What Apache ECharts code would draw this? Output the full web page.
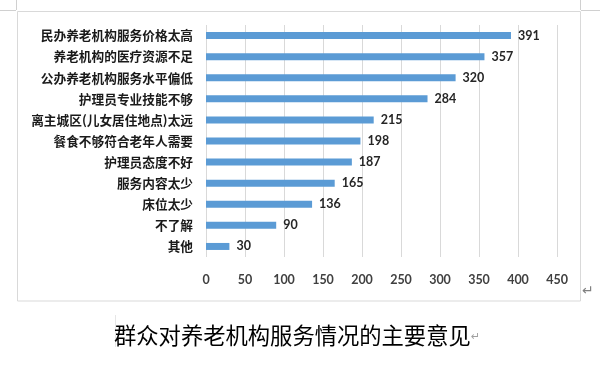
<!DOCTYPE html>
<html>
<head>
<meta charset="utf-8">
<script src="https://cdn.jsdelivr.net/npm/echarts@6/dist/echarts.min.js"></script>
<style>
html,body{margin:0;padding:0;background:#fff;}
#c{width:600px;height:367px;}
</style>
</head>
<body>
<div id="c"></div>
<script>
var categories = ['民办养老机构服务价格太高','养老机构的医疗资源不足','公办养老机构服务水平偏低','护理员专业技能不够','离主城区(儿女居住地点)太远','餐食不够符合老年人需要','护理员态度不好','服务内容太少','床位太少','不了解','其他'];
var values = [391,357,320,284,215,198,187,165,136,90,30];
var titleText = '群众对养老机构服务情况的主要意见';

var chart = echarts.init(document.getElementById('c'), null, {renderer:'canvas'});
var cjk = '"Noto Sans CJK SC", sans-serif';
var num = 'Lato, "Open Sans", sans-serif';
chart.setOption({
  animation:false,
  backgroundColor:'#fff',
  grid:{left:206, right:43, top:25, height:232, containLabel:false},
  xAxis:{
    type:'value', min:0, max:450, interval:50,
    axisLine:{show:false}, axisTick:{show:false},
    splitLine:{show:true, lineStyle:{color:'#d9d9d9', width:1}},
    axisLabel:{margin:16, color:'#404040', fontSize:12.5, fontWeight:'bold', fontFamily:num}
  },
  yAxis:{
    type:'category', data:categories, inverse:true,
    axisLine:{show:false}, axisTick:{show:false},
    axisLabel:{margin:13, color:'#1a1a1a', fontSize:12.7, fontWeight:'bold', fontFamily:cjk}
  },
  series:[{
    type:'bar', data:values, barWidth:7,
    itemStyle:{color:'#5b9bd5'},
    label:{show:true, position:'right', distance:7, color:'#262626', fontSize:12.5, fontWeight:'bold', fontFamily:num}
  }],
  graphic:[
    {type:'rect', shape:{x:17.5, y:11.5, width:563, height:289.5}, style:{fill:null, stroke:'#d9d9d9', lineWidth:1}, z:-1},
    {type:'line', shape:{x1:0, y1:10.5, x2:16, y2:10.5}, style:{stroke:'#d0d0d0', lineWidth:1}},
    {type:'line', shape:{x1:16.5, y1:0, x2:16.5, y2:10}, style:{stroke:'#d0d0d0', lineWidth:1}},
    {type:'line', shape:{x1:580.5, y1:0, x2:580.5, y2:10}, style:{stroke:'#d0d0d0', lineWidth:1}},
    {type:'line', shape:{x1:581, y1:10.5, x2:600, y2:10.5}, style:{stroke:'#d0d0d0', lineWidth:1}},
    {type:'text', left:582, top:284, style:{text:'↵', fill:'#808080', fontSize:14, fontFamily:'"DejaVu Sans", sans-serif'}},
    {type:'line', shape:{x1:115.5, y1:315, x2:115.5, y2:347}, style:{stroke:'#e6e6e6', lineWidth:1}},
    {type:'text', left:114, top:324, style:{text:titleText, fill:'#000', fontSize:22.3, fontFamily:cjk}},
    {type:'text', left:471, top:332, style:{text:'↵', fill:'#a0a0a0', fontSize:11, fontFamily:'"DejaVu Sans", sans-serif'}}
  ]
});
</script>
</body>
</html>
